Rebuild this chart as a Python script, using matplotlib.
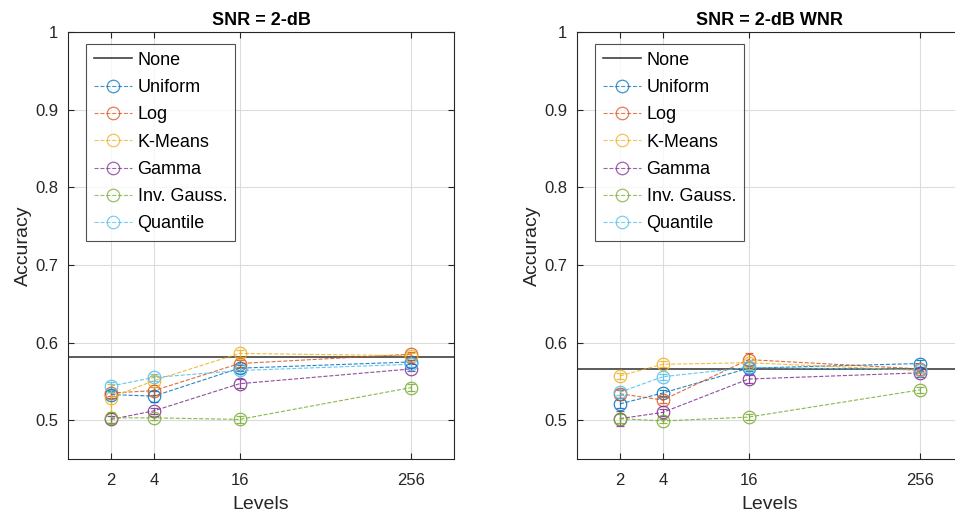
import matplotlib
matplotlib.use("Agg")
import matplotlib.pyplot as plt
from matplotlib.lines import Line2D
from matplotlib.ticker import FixedLocator, FixedFormatter, NullLocator

plt.rcParams['font.family'] = ['Liberation Sans', 'DejaVu Sans']

levels = [2, 4, 16, 256]
methods = ["Uniform", "Log", "K-Means", "Gamma", "Inv. Gauss.", "Quantile"]
colors = ["#0072BD", "#D95319", "#EDB120", "#7E2F8E", "#77AC30", "#4DBEEE"]

# SNR = 2-dB
none_a = 0.582
acc_a = {
    "Uniform":     [0.533, 0.531, 0.567, 0.575],
    "Log":         [0.535, 0.538, 0.573, 0.585],
    "K-Means":     [0.529, 0.551, 0.586, 0.583],
    "Gamma":       [0.501, 0.512, 0.547, 0.566],
    "Inv. Gauss.": [0.503, 0.503, 0.501, 0.542],
    "Quantile":    [0.544, 0.555, 0.564, 0.572],
}
err_a = {
    "Uniform":     [0.004, 0.007, 0.004, 0.003],
    "Log":         [0.004, 0.005, 0.004, 0.003],
    "K-Means":     [0.018, 0.006, 0.004, 0.003],
    "Gamma":       [0.004, 0.004, 0.006, 0.003],
    "Inv. Gauss.": [0.006, 0.003, 0.005, 0.004],
    "Quantile":    [0.005, 0.004, 0.003, 0.003],
}

# SNR = 2-dB WNR
none_b = 0.566
acc_b = {
    "Uniform":     [0.521, 0.535, 0.567, 0.573],
    "Log":         [0.534, 0.526, 0.578, 0.566],
    "K-Means":     [0.557, 0.572, 0.574, 0.564],
    "Gamma":       [0.502, 0.510, 0.553, 0.561],
    "Inv. Gauss.": [0.502, 0.499, 0.504, 0.539],
    "Quantile":    [0.536, 0.556, 0.568, 0.565],
}
err_b = {
    "Uniform":     [0.005, 0.004, 0.004, 0.004],
    "Log":         [0.005, 0.004, 0.008, 0.003],
    "K-Means":     [0.004, 0.004, 0.004, 0.003],
    "Gamma":       [0.010, 0.004, 0.005, 0.006],
    "Inv. Gauss.": [0.006, 0.003, 0.004, 0.004],
    "Quantile":    [0.004, 0.004, 0.003, 0.003],
}

fig = plt.figure(figsize=(9.55, 5.19), dpi=100)
ax1 = fig.add_axes([68/955, 1-459/519, 386/955, 427/519])
ax2 = fig.add_axes([577/955, 1-459/519, 386/955, 427/519])

axcol = "#262626"

def draw(ax, none_val, acc, err, title):
    ax.axhline(none_val, color="#404040", lw=1.2, zorder=1)
    handles = [Line2D([], [], color="#404040", lw=1.2, label="None")]
    for m, c in zip(methods, colors):
        ax.errorbar(levels, acc[m], yerr=err[m], fmt="o--", color=c,
                    mfc="none", ms=9, mew=0.9, lw=0.8, elinewidth=0.9,
                    capsize=3, alpha=0.85, zorder=2)
        handles.append(Line2D([], [], color=c, ls="--", marker="o", mfc="none",
                              ms=9, mew=0.9, lw=0.8, alpha=0.75, label=m))
    ax.set_xscale("log", base=2)
    ax.set_xlim(1, 512)
    ax.set_ylim(0.45, 1)
    ax.xaxis.set_major_locator(FixedLocator(levels))
    ax.xaxis.set_major_formatter(FixedFormatter([str(v) for v in levels]))
    ax.xaxis.set_minor_locator(NullLocator())
    yt = [0.5, 0.6, 0.7, 0.8, 0.9, 1.0]
    ax.set_yticks(yt)
    ax.set_yticklabels(["0.5", "0.6", "0.7", "0.8", "0.9", "1"])
    ax.grid(True, color="#dcdcdc", lw=0.8)
    ax.set_axisbelow(True)
    ax.tick_params(direction="in", length=4, labelsize=12, colors=axcol,
                   top=True, right=True)
    ax.tick_params(axis="x", pad=10)
    ax.tick_params(axis="y", pad=7)
    for s in ax.spines.values():
        s.set_color(axcol)
        s.set_linewidth(0.8)
    ax.set_xlabel("Levels", fontsize=14, color=axcol, labelpad=6)
    ax.set_ylabel("Accuracy", fontsize=14, color=axcol, labelpad=2)
    ax.set_title(title, fontsize=13, fontweight="bold", color="black", pad=5)
    leg = ax.legend(handles=handles, loc="upper left",
                    bbox_to_anchor=(0.047, 0.973),
                    fontsize=13, frameon=True, fancybox=False,
                    handlelength=2.1, handletextpad=0.3, labelspacing=0.57,
                    borderpad=0.45, borderaxespad=0)
    leg.get_frame().set_edgecolor(axcol)
    leg.get_frame().set_linewidth(0.8)

draw(ax1, none_a, acc_a, err_a, "SNR = 2-dB")
draw(ax2, none_b, acc_b, err_b, "SNR = 2-dB WNR")

fig.savefig("out.png", dpi=100)
